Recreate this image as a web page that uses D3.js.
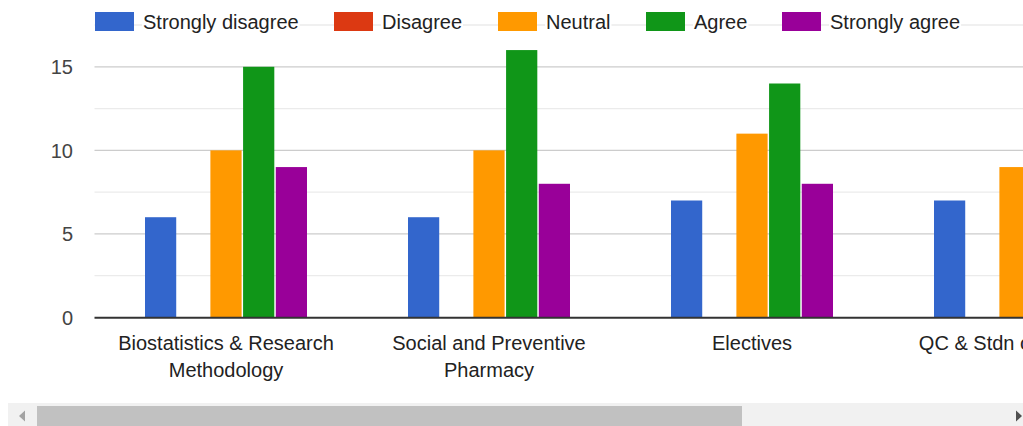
<!DOCTYPE html>
<html>
<head>
<meta charset="utf-8">
<script src="https://cdn.jsdelivr.net/npm/d3@7"></script>
<style>
  html, body { margin: 0; padding: 0; background: #fff; overflow: hidden; }
  svg { display: block; font-family: "Liberation Sans", Arial, sans-serif; }
</style>
</head>
<body>
<div id="chart"></div>
<script>
// categories (4th is cut off by the scroll view)
const subjects = ["Biostatistics & Research Methodology", "Social and Preventive Pharmacy", "Electives", "QC & Stdn of Herbals"];
const responses = ["Strongly disagree", "Disagree", "Neutral", "Agree", "Strongly agree"];
const colors = ["#3366cc", "#dc3912", "#ff9900", "#109618", "#990099"];

const stronglyDisagree = [6, 6, 7, 7];
const disagree = [0, 0, 0, 0];
const neutral = [10, 10, 11, 9];
const agree = [15, 16, 14, 13];
const stronglyAgree = [9, 8, 8, 8];

const yTicks = [0, 5, 10, 15];
const yMinor = [2.5, 7.5, 12.5, 17.5];

const series = [stronglyDisagree, disagree, neutral, agree, stronglyAgree];

const width = 1023, height = 426;

const svg = d3.select("#chart").append("svg")
    .attr("width", width)
    .attr("height", height);

const left = 94.5;
const step = 263;

const x0 = d3.scaleBand()
    .domain(subjects)
    .range([left, left + step * subjects.length])
    .padding(0);

const x1 = d3.scaleBand()
    .domain(responses)
    .range([x0.bandwidth() / 2 - 81, x0.bandwidth() / 2 + 81])
    .paddingInner(0.045);

const y = d3.scaleLinear()
    .domain([0, 17.5])
    .range([317.5, 25]);

// gridlines
svg.append("g").selectAll("line")
    .data(yMinor)
    .join("line")
    .attr("x1", left).attr("x2", width)
    .attr("y1", d => y(d)).attr("y2", d => y(d))
    .attr("stroke", "#ebebeb")
    .attr("stroke-width", 1.3);

svg.append("g").selectAll("line")
    .data(yTicks.filter(d => d > 0))
    .join("line")
    .attr("x1", left).attr("x2", width)
    .attr("y1", d => y(d)).attr("y2", d => y(d))
    .attr("stroke", "#cccccc")
    .attr("stroke-width", 1.3);

// y tick labels
svg.append("g").selectAll("text")
    .data(yTicks)
    .join("text")
    .attr("x", 73)
    .attr("y", d => y(d))
    .attr("dy", "0.36em")
    .attr("text-anchor", "end")
    .attr("fill", "#444")
    .style("font-size", "20px")
    .text(d => d);

// bars
const groups = svg.append("g").selectAll("g")
    .data(subjects)
    .join("g")
    .attr("transform", d => `translate(${x0(d)},0)`);

groups.selectAll("rect")
    .data((d, i) => responses.map((r, j) => ({ key: r, value: series[j][i], color: colors[j] })))
    .join("rect")
    .attr("x", d => x1(d.key))
    .attr("y", d => y(d.value))
    .attr("width", x1.bandwidth())
    .attr("height", d => y(0) - y(d.value))
    .attr("fill", d => d.color);

// baseline
svg.append("line")
    .attr("x1", left).attr("x2", width)
    .attr("y1", y(0) + 0.3).attr("y2", y(0) + 0.3)
    .attr("stroke", "#333")
    .attr("stroke-width", 2);

// category labels, wrapped
const labels = svg.append("g").selectAll("text")
    .data(subjects)
    .join("text")
    .attr("x", d => x0(d) + x0.bandwidth() / 2)
    .attr("y", 349.5)
    .attr("text-anchor", "middle")
    .attr("fill", "#222")
    .style("font-size", "20px")
    .text(d => d);

labels.each(function(d) {
    const t = d3.select(this);
    const cx = +t.attr("x");
    const words = d.split(" ");
    t.text(null);
    let line = [];
    let lineNo = 0;
    let tspan = t.append("tspan").attr("x", cx).attr("dy", 0);
    for (const w of words) {
        line.push(w);
        tspan.text(line.join(" "));
        if (tspan.node().getComputedTextLength() > 235 && line.length > 1) {
            line.pop();
            tspan.text(line.join(" "));
            line = [w];
            lineNo++;
            tspan = t.append("tspan").attr("x", cx).attr("dy", 27).text(w);
        }
    }
});

// legend
const legendX = [95, 334, 498, 646, 782];
const legend = svg.append("g").selectAll("g")
    .data(responses)
    .join("g")
    .attr("transform", (d, i) => `translate(${legendX[i]},12)`);

legend.append("rect")
    .attr("x", 0).attr("y", 0)
    .attr("width", 39).attr("height", 19)
    .attr("fill", (d, i) => colors[i]);

legend.append("text")
    .attr("x", 48)
    .attr("y", 16.5)
    .attr("fill", "#222")
    .style("font-size", "20px")
    .text(d => d)
    .each(function() {
        const b = this.getBBox();
        d3.select(this.parentNode).insert("rect", "text")
            .attr("x", b.x - 1).attr("y", 10)
            .attr("width", b.width + 2).attr("height", 6)
            .attr("fill", "#fff");
    });

// horizontal scrollbar
const bar = svg.append("g");
bar.append("rect")
    .attr("x", 8).attr("y", 403)
    .attr("width", width - 8).attr("height", 23)
    .attr("fill", "#f1f1f1");
bar.append("rect")
    .attr("x", 37).attr("y", 406)
    .attr("width", 705).attr("height", 20)
    .attr("fill", "#c1c1c1");
bar.append("path")
    .attr("d", "M19,416 L25,410.5 L25,421.5 Z")
    .attr("fill", "#a3a3a3");
bar.append("path")
    .attr("d", "M1022,416 L1016,410.5 L1016,421.5 Z")
    .attr("fill", "#505050");
</script>
</body>
</html>
